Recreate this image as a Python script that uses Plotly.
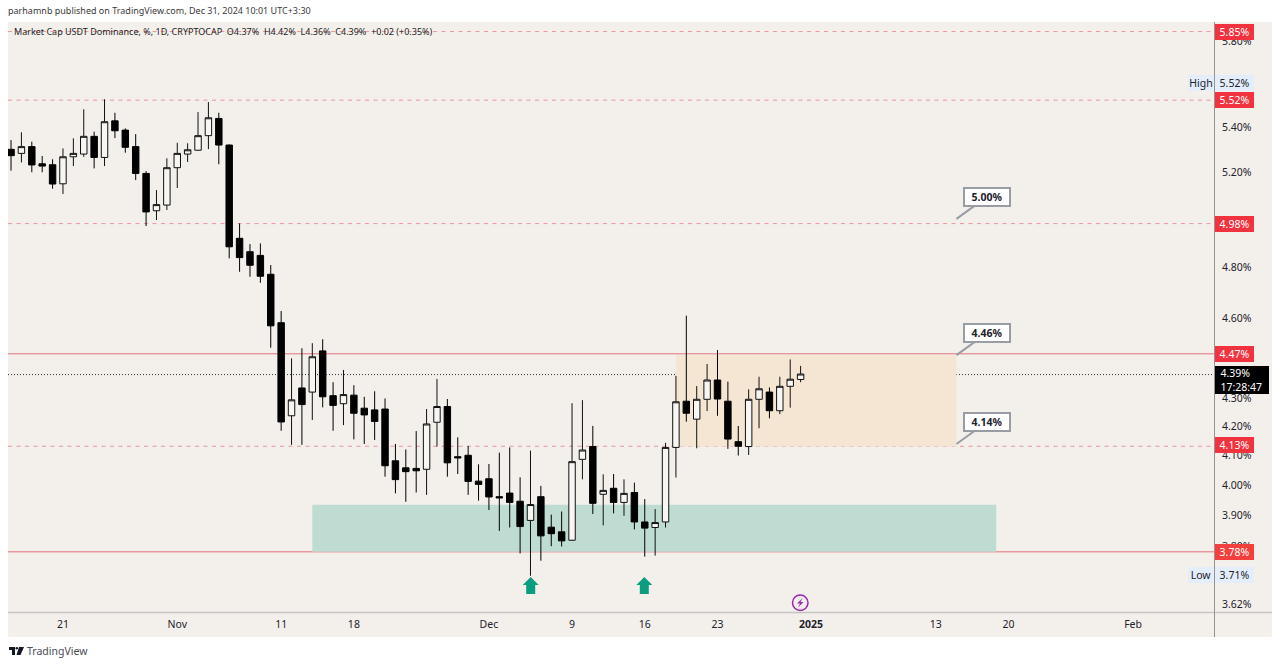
import numpy as np
import pandas as pd
import plotly.graph_objects as go

first_day = "2024-10-16"
opens = [5.300,5.282,5.312,5.236,5.232,5.149,5.267,5.279,5.358,5.264,5.428,5.386,5.312,5.194,5.034,5.058,5.219,5.279,5.296,5.361,5.439,5.319,4.919,4.864,4.849,4.773,4.583,4.239,4.339,4.324,4.476,4.311,4.282,4.313,4.266,4.260,4.263,4.082,4.058,4.056,4.053,4.216,4.272,4.096,4.101,4.013,4.021,3.961,3.973,3.946,3.883,3.961,3.861,3.846,3.819,4.087,4.131,3.969,3.989,3.942,3.975,3.878,3.860,3.878,4.128,4.291,4.227,4.298,4.368,4.291,4.148,4.131,4.298,4.324,4.257,4.345,4.37]
highs = [5.341,5.376,5.334,5.270,5.256,5.304,5.349,5.481,5.379,5.527,5.465,5.394,5.368,5.204,5.122,5.260,5.329,5.327,5.468,5.514,5.465,5.322,4.981,4.895,4.898,4.810,4.628,4.448,4.486,4.505,4.520,4.360,4.405,4.349,4.307,4.327,4.301,4.140,4.121,4.185,4.263,4.372,4.299,4.163,4.133,4.070,4.071,4.110,4.128,4.026,4.117,3.997,3.902,3.912,4.284,4.295,4.203,4.036,4.037,4.019,4.008,3.953,3.920,4.144,4.383,4.610,4.346,4.427,4.479,4.362,4.203,4.334,4.380,4.341,4.380,4.444,4.42]
lows = [5.206,5.242,5.199,5.199,5.128,5.105,5.226,5.267,5.216,5.226,5.350,5.285,5.165,4.970,4.995,5.037,5.131,5.244,5.294,5.301,5.234,4.837,4.783,4.763,4.739,4.488,4.186,4.137,4.137,4.224,4.269,4.186,4.206,4.156,4.140,4.154,4.028,3.972,3.944,3.975,3.967,4.131,4.028,4.037,3.967,3.948,3.917,3.849,3.860,3.777,3.707,3.754,3.800,3.799,3.817,4.019,3.904,3.867,3.906,3.898,3.854,3.767,3.770,3.860,4.025,4.218,4.125,4.256,4.239,4.123,4.100,4.102,4.195,4.230,4.245,4.268,4.36]
closes = [5.272,5.312,5.231,5.226,5.148,5.267,5.282,5.358,5.264,5.424,5.383,5.309,5.194,5.029,5.060,5.219,5.282,5.298,5.361,5.442,5.319,4.884,4.840,4.809,4.765,4.571,4.217,4.296,4.279,4.454,4.307,4.276,4.315,4.248,4.242,4.219,4.065,4.018,4.045,4.048,4.210,4.272,4.075,4.092,4.012,4.002,3.960,3.957,3.942,3.863,3.935,3.833,3.840,3.817,4.079,4.119,3.939,3.982,3.942,3.972,3.878,3.858,3.876,4.128,4.289,4.248,4.298,4.368,4.299,4.157,4.132,4.298,4.336,4.257,4.345,4.371,4.39]
dates = pd.date_range(first_day, periods=len(opens), freq="D")

y_tick_values = [5.80,5.40,5.20,4.80,4.60,4.30,4.20,4.10,4.00,3.90,3.80,3.62]
x_tick_dates = ["2024-10-21","2024-11-01","2024-11-11","2024-11-18","2024-12-01","2024-12-09","2024-12-16","2024-12-23","2025-01-01","2025-01-13","2025-01-20","2025-02-01"]
x_tick_text = ["21","Nov","11","18","Dec","9","16","23","<b>2025</b>","13","20","Feb"]

dashed_levels = [5.85,5.523,4.98,4.132]
solid_levels = [4.465,3.782]
last_price = 4.388
level_labels = [("5.85%",5.85),("5.52%",5.523),("4.98%",4.98),("4.47%",4.465),("4.13%",4.135),("3.78%",3.782)]
callouts = [("5.00%",5.00),("4.46%",4.46),("4.14%",4.14)]
callout_date = "2025-01-15"
orange_zone = ("2024-12-19","2025-01-15",4.131,4.46)
green_zone = ("2024-11-14","2025-01-18 20:00",3.782,3.934)

W, H = 1280, 665
L, R, T, B = 8, 1214, 22, 612
BG = "#f3f0ec"
LINE_RED = "#ea939c"
INK = "#1f222b"
FONT = "Noto Sans"

def px(v): return (v - L) / (R - L)
def py(v): return (B - v) / (B - T)
def path(pts):
    return "M" + " L".join(f"{px(a):.5f},{py(b):.5f}" for a, b in pts) + " Z"

shapes = [
    dict(type="rect", xref="paper", yref="paper", x0=px(8), x1=px(1272), y0=py(22), y1=py(637), fillcolor=BG, line_width=0, layer="below"),
    dict(type="rect", xref="x", yref="y", x0=orange_zone[0], x1=orange_zone[1], y0=orange_zone[2], y1=orange_zone[3], fillcolor="#f5e6d3", line_width=0, layer="below"),
    dict(type="rect", xref="x", yref="y", x0=green_zone[0], x1=green_zone[1], y0=green_zone[2], y1=green_zone[3], fillcolor="#bfdcd3", line_width=0, layer="below"),
]
for v in dashed_levels:
    shapes.append(dict(type="line", xref="paper", yref="y", x0=0, x1=1, y0=v, y1=v, line=dict(color=LINE_RED, width=1, dash="4px,4.5px"), layer="below"))
for v in solid_levels:
    shapes.append(dict(type="line", xref="paper", yref="y", x0=0, x1=1, y0=v, y1=v, line=dict(color="#e0707a", width=1), layer="below"))
shapes.append(dict(type="line", xref="paper", yref="y", x0=0, x1=1, y0=last_price, y1=last_price, line=dict(color="#333", width=1, dash="1px,2px"), layer="below"))
shapes.append(dict(type="line", xref="paper", yref="paper", x0=px(8), x1=px(1272), y0=py(612.5), y1=py(612.5), line=dict(color="#c8c5c1", width=1.5)))
shapes.append(dict(type="line", xref="paper", yref="paper", x0=px(1214.5), x1=px(1214.5), y0=py(22), y1=py(637), line=dict(color="#96948f", width=1)))

# up arrows
for cx in (530.7, 644.3):
    shapes.append(dict(type="path", xref="paper", yref="paper", fillcolor="#0b9d82", line_width=0,
        path=path([(cx,577),(cx+8,585),(cx+4.5,585),(cx+4.5,594),(cx-4.5,594),(cx-4.5,585),(cx-8,585)])))

# lightning icon
shapes.append(dict(type="circle", xref="paper", yref="paper", x0=px(792.5), x1=px(808), y0=py(595), y1=py(610.5), line=dict(color="#9c27b0", width=1.5), fillcolor="rgba(0,0,0,0)"))
shapes.append(dict(type="path", xref="paper", yref="paper", fillcolor="#9c27b0", line_width=0,
    path=path([(802.5,598),(797,603.5),(800,603.5),(798,607.5),(803.5,602),(800.5,602)])))

# TradingView logo
shapes.append(dict(type="path", xref="paper", yref="paper", fillcolor="#131722", line_width=0,
    path=path([(9,647),(15,647),(15,655),(12,655),(12,650),(9,650)])))
shapes.append(dict(type="circle", xref="paper", yref="paper", x0=px(15.5), x1=px(18), y0=py(647), y1=py(649.5), fillcolor="#131722", line_width=0))
shapes.append(dict(type="path", xref="paper", yref="paper", fillcolor="#131722", line_width=0,
    path=path([(19,647),(24,647),(20.5,655),(16.5,655)])))

annotations = []
def tag(text, y, x0, x1, bg, color, h=16, shift=0, size=10.5, align="center"):
    annotations.append(dict(text=text, xref="paper", yref="y", x=px(x0), y=float(np.log10(y)), xanchor="left", yanchor="middle",
        width=x1 - x0, height=h, bgcolor=bg, borderpad=0, borderwidth=0, showarrow=False, align=align, yshift=shift,
        font=dict(family=FONT, size=size, color=color)))

for text, v in level_labels:
    tag(text, v, 1215, 1254, "#f0333f" if v != 3.782 else "#f4403c", "#fff")
tag("High", 5.52, 1188, 1214, "#e3eefa", INK, shift=17.5)
tag("5.52%", 5.52, 1215, 1254, "#e3eefa", INK, shift=17.5)
tag("Low", 3.71, 1188, 1214, "#e3eefa", INK)
tag("3.71%", 3.71, 1215, 1254, "#e3eefa", INK)
tag("&nbsp;&nbsp;4.39%<br>&nbsp;&nbsp;17:28:47", 4.39, 1215, 1269, "#000000", "#fff", h=28, shift=-6, align="left")

for text, v in callouts:
    annotations.append(dict(text=f"<b>{text}</b>", xref="x", yref="y", x=callout_date, y=float(np.log10(v)), ax=30.5, ay=-22,
        showarrow=True, arrowhead=0, arrowwidth=2, arrowcolor="#9a9ca3", standoff=0,
        bordercolor="#9a9ca3", borderwidth=2, borderpad=0, bgcolor="#ffffff", width=44, height=16,
        font=dict(family=FONT, size=10.5, color=INK)))

def free_text(text, x, y, size, color):
    annotations.append(dict(text=text, xref="paper", yref="paper", x=px(x), y=py(y), xanchor="left", yanchor="middle",
        showarrow=False, font=dict(family=FONT, size=size, color=color)))

free_text("parhamnb published on TradingView.com, Dec 31, 2024 10:01 UTC+3:30", 6, 11, 9, "#3a3a3a")
free_text("Market Cap USDT Dominance, %, 1D, CRYPTOCAP &nbsp;O4.37% &nbsp;H4.42% &nbsp;L4.36% &nbsp;C4.39% &nbsp;+0.02 (+0.35%)", 12, 32, 9, "#1f1f1f")
free_text("TradingView", 25, 651, 10.5, "#4a4d55")

fig = go.Figure(go.Candlestick(
    x=dates, open=opens, high=highs, low=lows, close=closes,
    whiskerwidth=0,
    increasing=dict(line=dict(color="#111111", width=1), fillcolor="#f8f6f3"),
    decreasing=dict(line=dict(color="#000000", width=1), fillcolor="#000000"),
    showlegend=False,
))

fig.update_layout(
    width=W, height=H, autosize=False,
    margin=dict(l=L, r=W - R, t=T, b=H - B, pad=0),
    paper_bgcolor="#ffffff", plot_bgcolor=BG,
    boxgap=0.38, boxgroupgap=0,
    shapes=shapes, annotations=annotations,
    font=dict(family=FONT, size=10.5, color=INK),
    showlegend=False,
    xaxis=dict(
        type="date", range=["2024-10-15 17:00", "2025-02-08 19:00"],
        rangeslider=dict(visible=False), showgrid=False, zeroline=False, showline=False,
        tickmode="array", tickvals=x_tick_dates, ticktext=x_tick_text, ticks="", ticklabelstandoff=4,
        tickfont=dict(family=FONT, size=10.5, color=INK),
    ),
    yaxis=dict(
        type="log", side="right", range=[float(np.log10(3.596)), float(np.log10(5.897))],
        showgrid=False, zeroline=False, showline=False,
        tickmode="array", tickvals=y_tick_values, ticktext=[f"{v:.2f}%" for v in y_tick_values],
        ticks="", ticklabelstandoff=7, tickfont=dict(family=FONT, size=10.5, color=INK),
    ),
)

fig.write_html("out.html", config=dict(displayModeBar=False),
               post_script="document.body.style.margin='0';document.body.style.overflow='hidden';")
